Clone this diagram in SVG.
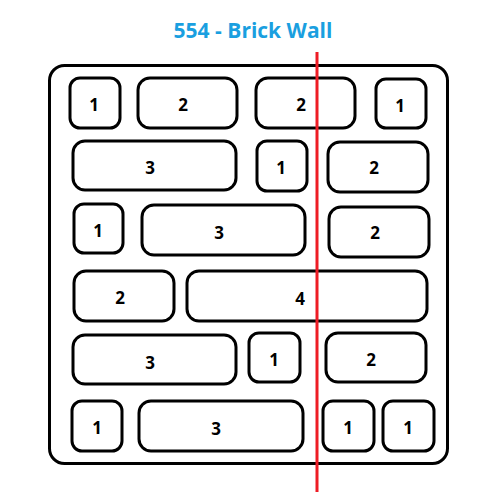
<svg xmlns="http://www.w3.org/2000/svg" width="500" height="500" viewBox="0 0 500 500">
<style>
.brick{fill:#fff;stroke:#000;stroke-width:3}
.lbl{font-family:"Open Sans","Liberation Sans",sans-serif;font-weight:bold;font-size:17px;fill:#000;text-anchor:middle;dominant-baseline:central}
.title{font-family:"Open Sans","Liberation Sans",sans-serif;font-weight:bold;font-size:21px;fill:#1a9fe0;text-anchor:middle}
</style>
<rect width="500" height="500" fill="#fff"/>
<text class="title" x="253" y="38">554 - Brick Wall</text>
<g id="wall"><rect x="49.5" y="65.5" width="398" height="398" rx="15" fill="#fff" stroke="#000" stroke-width="3"/></g>
<g id="r1b1"><rect class="brick" x="70" y="78" width="50" height="50" rx="10"/><text class="lbl" x="94" y="104">1</text></g>
<g id="r1b2"><rect class="brick" x="138" y="78" width="99" height="50" rx="12"/><text class="lbl" x="183" y="104">2</text></g>
<g id="r1b3"><rect class="brick" x="256" y="78" width="99" height="50" rx="12"/><text class="lbl" x="301" y="104">2</text></g>
<g id="r1b4"><rect class="brick" x="376" y="79" width="50" height="49" rx="10"/><text class="lbl" x="400" y="105">1</text></g>
<g id="r2b1"><rect class="brick" x="73" y="141" width="163" height="49" rx="12"/><text class="lbl" x="150" y="167">3</text></g>
<g id="r2b2"><rect class="brick" x="257" y="141" width="50" height="50" rx="10"/><text class="lbl" x="281" y="167">1</text></g>
<g id="r2b3"><rect class="brick" x="328" y="142" width="100" height="50" rx="12"/><text class="lbl" x="374" y="167">2</text></g>
<g id="r3b1"><rect class="brick" x="74" y="204" width="49" height="49" rx="10"/><text class="lbl" x="98" y="230">1</text></g>
<g id="r3b2"><rect class="brick" x="142" y="205" width="163" height="50" rx="12"/><text class="lbl" x="219" y="232">3</text></g>
<g id="r3b3"><rect class="brick" x="329" y="207" width="100" height="50" rx="12"/><text class="lbl" x="375" y="232">2</text></g>
<g id="r4b1"><rect class="brick" x="74" y="271" width="100" height="50" rx="12"/><text class="lbl" x="120" y="297">2</text></g>
<g id="r4b2"><rect class="brick" x="187" y="271" width="240" height="50" rx="12"/><text class="lbl" x="300" y="298">4</text></g>
<g id="r5b1"><rect class="brick" x="73" y="335" width="163" height="49" rx="12"/><text class="lbl" x="150" y="362">3</text></g>
<g id="r5b2"><rect class="brick" x="249" y="333" width="51" height="49" rx="10"/><text class="lbl" x="274" y="359">1</text></g>
<g id="r5b3"><rect class="brick" x="326" y="333" width="100" height="49" rx="12"/><text class="lbl" x="371" y="359">2</text></g>
<g id="r6b1"><rect class="brick" x="72" y="401" width="50" height="50" rx="10"/><text class="lbl" x="97" y="427">1</text></g>
<g id="r6b2"><rect class="brick" x="139" y="401" width="164" height="50" rx="12"/><text class="lbl" x="216" y="428">3</text></g>
<g id="r6b3"><rect class="brick" x="323" y="401" width="51" height="50" rx="10"/><text class="lbl" x="348" y="427">1</text></g>
<g id="r6b4"><rect class="brick" x="383" y="401" width="51" height="50" rx="10"/><text class="lbl" x="408" y="427">1</text></g>
<g id="connectors"><line x1="317" y1="52" x2="317" y2="492" stroke="#ee1c25" stroke-width="3"/></g>
</svg>
